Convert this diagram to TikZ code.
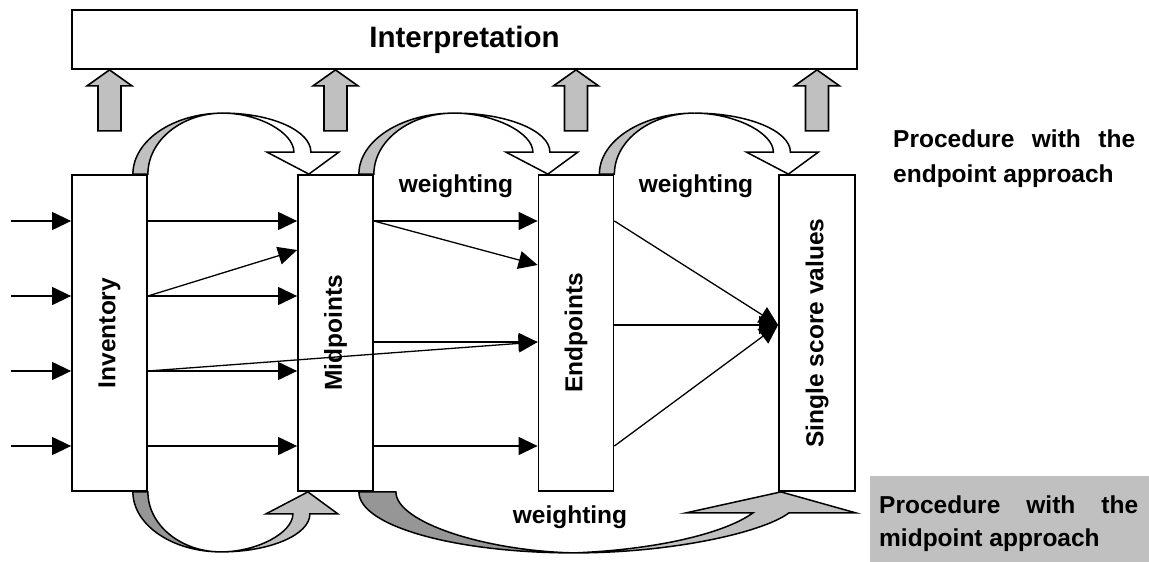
\documentclass[tikz,border=0pt]{standalone}
\usepackage{fontspec}
\setmainfont{Liberation Sans}
\usetikzlibrary{arrows.meta,calc,backgrounds}
\definecolor{lgray}{HTML}{C0C0C0}
\definecolor{dgray}{HTML}{969696}
\tikzset{
  lbl/.style={font=\bfseries\fontsize{24.5}{30}\selectfont, inner sep=0pt},
  box/.style={draw, line width=1.8pt, fill=white, minimum width=75pt, minimum height=316pt, inner sep=0pt, lbl},
  arr/.style={line width=1.3pt, -{Triangle[length=19pt,width=18pt]}},
  blk/.style={draw, line width=1.6pt, line join=miter, fill=lgray},
  curv/.style={draw, line width=1.5pt, line join=miter},
}
% curved block arrow in local coordinates: #1 back fill, #2 front fill, #3 tip x, #4 peak x, #5 peak height
\newcommand\cvarrow[5]{%
  \filldraw[curv, fill=#1] (-15,0) .. controls (-15,{-0.55*#5}) and ({#4-0.55*(#4+15)},{-#5}) .. (#4,{-#5})
     .. controls ({0.45*#4},{-#5}) and (0,{-0.55*#5}) .. (0,0) -- cycle;
  \filldraw[curv, fill=#2] (#4,{-#5}) .. controls ({#4+0.55*(#3+2-#4)},{-#5}) and ({#3+2},{-22-0.55*(#5-22)}) .. ({#3+2},-22)
     -- ({#3+30},-22) -- (#3,0) -- ({#3-42},-22) -- ({#3-15},-22)
     .. controls ({#3-15},{-22-0.5*(#5-22)}) and ({#4+0.5*(#3-15-#4)},{-#5}) .. (#4,{-#5}) -- cycle;
}
\begin{document}
\begin{tikzpicture}[x=1pt,y=-1pt]
\useasboundingbox (0,0) rectangle (1149,562);

% main boxes
\node[box] (inv) at (109.5,333) {\rotatebox{90}{Inventory}};
\node[box] (mid) at (335.5,333) {\rotatebox{90}{Midpoints}};
\node[box] (endp) at (576,333) {\rotatebox{90}{Endpoints}};
\node[box, minimum width=76pt] (single) at (817,333) {\rotatebox{90}{Single score values}};
\node[draw, line width=1.8pt, fill=white, minimum width=785pt, minimum height=59pt, inner sep=0pt,
      font=\bfseries\fontsize{29.5}{34}\selectfont] (interp) at (464.5,39.5) {Interpretation};

% curved block arrows (behind the boxes)
\begin{scope}[on background layer]
  \begin{scope}[shift={(inv.north east)}]\cvarrow{lgray}{white}{161}{75}{61}\end{scope}
  \begin{scope}[shift={(mid.north east)}]\cvarrow{lgray}{white}{174}{80}{61}\end{scope}
  \begin{scope}[shift={(endp.north east)}]\cvarrow{lgray}{white}{174}{80}{61}\end{scope}
  \begin{scope}[shift={(inv.south east)}, yscale=-1]\cvarrow{dgray}{lgray}{160}{73}{60}\end{scope}
  \begin{scope}[shift={(mid.south east)}]
    \filldraw[curv, fill=dgray] (-15,0) -- (22,0) .. controls (22,30) and (110,59) .. (200,61)
       .. controls (81,61) and (-15,34) .. (-15,0) -- cycle;
    \filldraw[curv, fill=lgray] (200,61) .. controls (300,61) and (390,40) .. (415,21)
       -- (482,21) -- (407,0) -- (312,21) -- (379,21)
       .. controls (350,42) and (280,58) .. (200,61) -- cycle;
  \end{scope}
\end{scope}

% up block arrows to Interpretation
\foreach \b in {inv,mid,endp,single}{
  \draw[blk] (\b |- interp.south) -- ++(22.5,16) -- ++(-11,0) -- ++(0,45) -- ++(-23,0) -- ++(0,-45) -- ++(-11,0) -- cycle;
}

% row coordinates
\coordinate (r1) at (0,221);
\coordinate (r2) at (0,296);
\coordinate (r3) at (0,371);
\coordinate (r4) at (0,446);
\coordinate (m2) at (0,250);
\coordinate (e2) at (0,265);
\coordinate (e3) at (0,342);
\coordinate (sc) at (0,325);
\coordinate (s1) at (11,221);
\coordinate (s2) at (11,296);
\coordinate (s3) at (11,371);
\coordinate (s4) at (11,446);

% inputs
\foreach \s in {s1,s2,s3,s4}{ \draw[arr] (\s) -- (inv.west |- \s); }
% inventory -> midpoints
\foreach \r in {r1,r2,r3,r4}{ \draw[arr] (inv.east |- \r) -- (mid.west |- \r); }
\draw[arr] (inv.east |- r2) -- (mid.west |- m2);
\draw[arr] (inv.east |- r3) -- (endp.west |- e3);
% midpoints -> endpoints
\draw[arr] (mid.east |- r1) -- (endp.west |- r1);
\draw[arr] (mid.east |- r1) -- (endp.west |- e2);
\draw[arr] (mid.east |- e3) -- (endp.west |- e3);
\draw[arr] (mid.east |- r4) -- (endp.west |- r4);
% endpoints -> single score
\draw[arr] (endp.east |- r1) -- (single.west |- sc);
\draw[arr] (endp.east |- sc) -- (single.west |- sc);
\draw[arr] (endp.east |- r4) -- (single.west |- sc);

% labels
\node[lbl, anchor=base] (w1) at (456,192) {weighting};
\node[lbl, anchor=base] (w2) at (696,192) {weighting};
\node[lbl, anchor=base] (w3) at (570,523) {weighting};

\node[lbl, anchor=base west] (ep1) at (893,147) {\makebox[242pt][s]{Procedure with the}};
\node[lbl, anchor=base west] (ep2) at (893,182) {endpoint approach};

\node[fill=lgray, inner sep=0pt, minimum width=279pt, minimum height=86pt, anchor=north west] (mp) at (870,476) {};
\node[lbl, anchor=base west] (mp1) at (879,513) {\makebox[259pt][s]{Procedure with the}};
\node[lbl, anchor=base west] (mp2) at (879,546) {midpoint approach};
\end{tikzpicture}
\end{document}
